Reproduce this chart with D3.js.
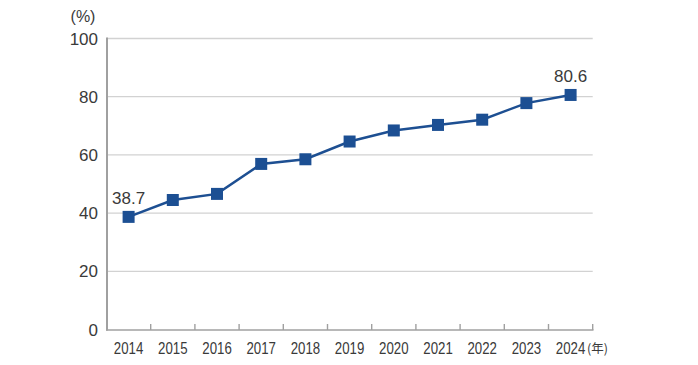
<!DOCTYPE html>
<html><head><meta charset="utf-8">
<script src="https://cdn.jsdelivr.net/npm/d3@7"></script>
<style>body{margin:0;background:#fff}svg{display:block}</style>
</head><body>
<svg id="c" width="698" height="365"></svg>
<script>
const years = ["2014","2015","2016","2017","2018","2019","2020","2021","2022","2023","2024"];
const values = [38.7, 44.5, 46.6, 56.9, 58.5, 64.6, 68.4, 70.3, 72.1, 77.8, 80.6];
const yTicks = [0, 20, 40, 60, 80, 100];
const labelled = ["2014", "2024"];

const svg = d3.select("#c");
const x = d3.scaleBand().domain(years).range([106.5, 592.7]);
const y = d3.scaleLinear().domain([0, 100]).range([329.5, 38.5]);

// gridlines
svg.append("g").selectAll("line").data(yTicks.filter(d => d > 0)).join("line")
  .attr("x1", 107).attr("x2", 592.7)
  .attr("y1", d => y(d)).attr("y2", d => y(d))
  .attr("stroke", "#d2d2d2").attr("stroke-width", 1.3);

// y labels
svg.append("g").selectAll("text").data(yTicks).join("text")
  .attr("x", 98).attr("y", d => y(d) + 6)
  .attr("text-anchor", "end")
  .attr("font-family", "Liberation Sans, Arial, sans-serif")
  .attr("font-size", 17).attr("fill", "#3a3a3a")
  .text(d => d);
svg.append("text").attr("x", 83).attr("y", 22).attr("text-anchor", "middle")
  .attr("font-family", "Liberation Sans, Arial, sans-serif")
  .attr("font-size", 16).attr("fill", "#3a3a3a").text("(%)");

// y axis line
svg.append("line").attr("x1", 107).attr("x2", 107).attr("y1", 37.5).attr("y2", 330.5)
  .attr("stroke", "#a0a0a0").attr("stroke-width", 2);

// x axis
const xAxis = d3.axisBottom(x).tickSize(0).tickFormat(d => d);
const gx = svg.append("g").attr("transform", "translate(0,330)").call(xAxis);
gx.select(".domain").remove();
gx.append("line").attr("x1", 106).attr("x2", 593.5).attr("y1", 0).attr("y2", 0)
  .attr("stroke", "#a0a0a0").attr("stroke-width", 1.6);
gx.selectAll(".bnd").data(years).join("line").attr("class", "bnd")
  .attr("x1", d => x(d) + x.bandwidth()).attr("x2", d => x(d) + x.bandwidth())
  .attr("y1", 0).attr("y2", -6).attr("stroke", "#a0a0a0").attr("stroke-width", 1.4);
gx.selectAll(".tick text")
  .attr("y", 24).attr("dy", 0)
  .attr("transform", "scale(0.78,1)")
  .attr("font-family", "Liberation Sans, Arial, sans-serif")
  .attr("font-size", 17).attr("fill", "#3a3a3a");
svg.append("text").attr("x", x("2024") + x.bandwidth() / 2 + 16.5).attr("y", 353)
  .attr("font-family", "Noto Sans CJK JP, sans-serif")
  .attr("font-size", 12.5).attr("fill", "#3a3a3a").text("(年)");

// line
const data = years.map((yr, i) => ({yr, v: values[i]}));
const cx = d => x(d.yr) + x.bandwidth() / 2;
svg.append("path").datum(data)
  .attr("d", d3.line().x(cx).y(d => y(d.v)))
  .attr("fill", "none").attr("stroke", "#1d4f92").attr("stroke-width", 2.5);

const s = 12;
svg.append("g").selectAll("rect").data(data).join("rect")
  .attr("x", d => cx(d) - s / 2).attr("y", d => y(d.v) - s / 2)
  .attr("width", s).attr("height", s).attr("fill", "#1c4f93");

svg.append("g").selectAll("text").data(data.filter(d => labelled.includes(d.yr))).join("text")
  .attr("x", cx).attr("y", d => y(d.v) - 13)
  .attr("text-anchor", "middle")
  .attr("font-family", "Liberation Sans, Arial, sans-serif")
  .attr("font-size", 17).attr("fill", "#3a3a3a")
  .text(d => d3.format(".1f")(d.v));
</script>
</body></html>
